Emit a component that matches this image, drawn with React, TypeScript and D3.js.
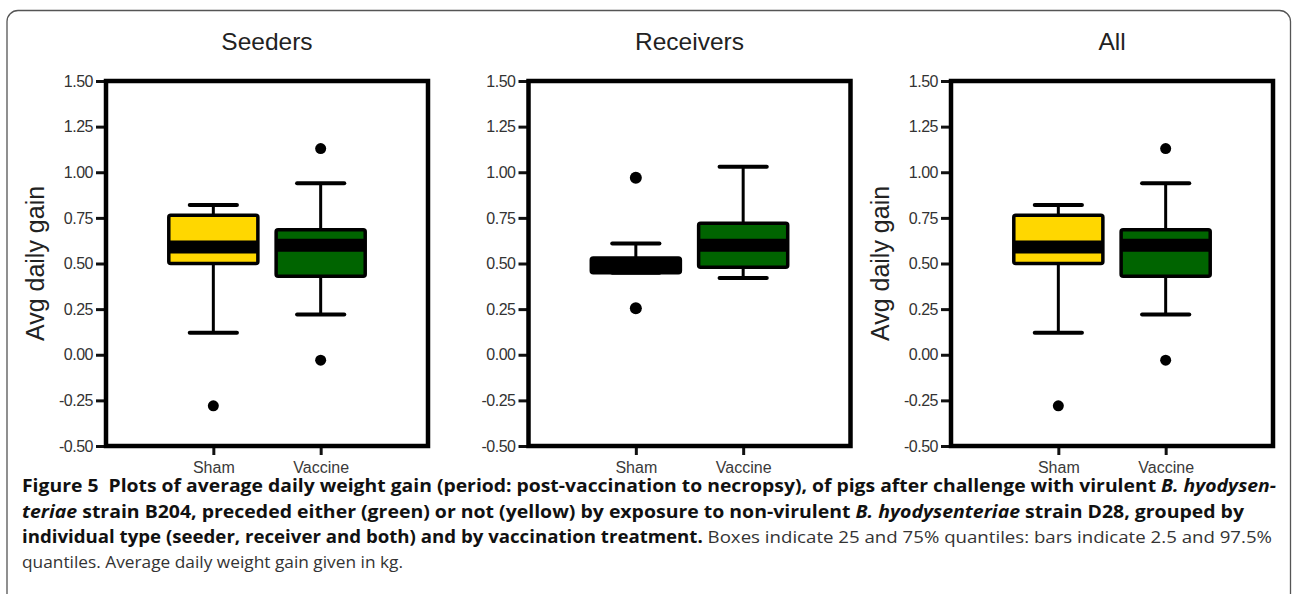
import React, { useEffect, useRef } from 'react';
import * as d3 from 'd3';

interface BoxStat {
  group: string;
  low: number;
  q1: number;
  median: number;
  q3: number;
  high: number;
  outliers: number[];
}

const panelTitles = ['Seeders', 'Receivers', 'All'];
const groups = ['Sham', 'Vaccine'];
const yTicks = [-0.5, -0.25, 0, 0.25, 0.5, 0.75, 1.0, 1.25, 1.5];
const groupColors = ['#ffd700', '#006400'];

const seeders: BoxStat[] = [
  { group: 'Sham', low: 0.12, q1: 0.5, median: 0.59, q3: 0.765, high: 0.82, outliers: [-0.28] },
  { group: 'Vaccine', low: 0.22, q1: 0.43, median: 0.6, q3: 0.685, high: 0.94, outliers: [1.13, -0.03] },
];
const receivers: BoxStat[] = [
  { group: 'Sham', low: 0.45, q1: 0.45, median: 0.49, q3: 0.53, high: 0.61, outliers: [0.97, 0.255] },
  { group: 'Vaccine', low: 0.42, q1: 0.48, median: 0.6, q3: 0.72, high: 1.03, outliers: [] },
];
const all: BoxStat[] = [
  { group: 'Sham', low: 0.12, q1: 0.5, median: 0.59, q3: 0.765, high: 0.82, outliers: [-0.28] },
  { group: 'Vaccine', low: 0.22, q1: 0.43, median: 0.6, q3: 0.685, high: 0.94, outliers: [1.13, -0.03] },
];
const panelData = [seeders, receivers, all];
const showYLabel = [true, false, true];

// caption lines: [text, bold, italic]
const captionLines: Array<Array<[string, boolean, boolean]>> = [
  [
    ['Figure 5  Plots of average daily weight gain (period: post-vaccination to necropsy), of pigs after challenge with virulent ', true, false],
    ['B. hyodysen-', true, true],
  ],
  [
    ['teriae', true, true],
    [' strain B204, preceded either (green) or not (yellow) by exposure to non-virulent ', true, false],
    ['B. hyodysenteriae', true, true],
    [' strain D28, grouped by', true, false],
  ],
  [
    ['individual type (seeder, receiver and both) and by vaccination treatment.', true, false],
    [' Boxes indicate 25 and 75% quantiles: bars indicate 2.5 and 97.5%', false, false],
  ],
  [['quantiles. Average daily weight gain given in kg.', false, false]],
];
const captionWidths = [1254, 1222, 1250, 381];

export default function App() {
  const svgRef = useRef<SVGSVGElement>(null);

  useEffect(() => {
    if (!svgRef.current) return;
    const svg = d3.select(svgRef.current);
    svg.selectAll('*').remove();

    const width = 1292;
    const height = 594;
    svg.attr('width', width).attr('height', height);

    svg.append('rect')
      .attr('width', width)
      .attr('height', height)
      .attr('fill', '#fff');

    // outer rounded border (bottom runs off the page)
    svg.append('rect')
      .attr('x', 7)
      .attr('y', 10.5)
      .attr('width', 1283.5)
      .attr('height', 700)
      .attr('rx', 11)
      .attr('fill', 'none')
      .attr('stroke', '#555')
      .attr('stroke-width', 1.3);

    const frameTop = 81;
    const frameBottom = 446;
    const frameWidth = 322;
    const frameLefts = [106, 528.5, 951];

    const yScale = d3.scaleLinear()
      .domain([-0.5, 1.5])
      .range([frameBottom, frameTop]);

    const fmt = d3.format('.2f');

    panelTitles.forEach((title, pi) => {
      const left = frameLefts[pi];
      const g = svg.append('g').attr('transform', `translate(${left}, 0)`);

      const xScale = d3.scalePoint()
        .domain(groups)
        .range([0, frameWidth])
        .padding(1);
      const step = xScale.step();
      const boxW = step * 0.83;
      const capW = boxW * 0.53;

      // title
      g.append('text')
        .attr('x', frameWidth / 2)
        .attr('y', 50)
        .attr('text-anchor', 'middle')
        .style('font-family', '"Liberation Sans", Arial, sans-serif')
        .style('font-size', '24.5px')
        .style('fill', '#222')
        .text(title);

      // y axis
      const yAxis = g.append('g')
        .call(d3.axisLeft(yScale).tickValues(yTicks).tickSize(10).tickPadding(3)
          .tickFormat(d => fmt(d as number).replace('\u2212', '-')));
      yAxis.select('.domain').remove();
      yAxis.selectAll('line').attr('stroke', '#111').attr('stroke-width', 3);
      yAxis.selectAll('text')
        .style('font-family', '"Liberation Sans", Arial, sans-serif')
        .style('font-size', '16px')
        .style('fill', '#333')
        .style('letter-spacing', '-0.5px');

      // x axis
      const xAxis = g.append('g')
        .attr('transform', `translate(0, ${frameBottom})`)
        .call(d3.axisBottom(xScale).tickSize(9).tickPadding(7));
      xAxis.select('.domain').remove();
      xAxis.selectAll('line').attr('stroke', '#111').attr('stroke-width', 3);
      xAxis.selectAll('text')
        .style('font-family', '"Liberation Sans", Arial, sans-serif')
        .style('font-size', '16px')
        .style('fill', '#3a3a3a');

      if (showYLabel[pi]) {
        g.append('text')
          .attr('transform', `translate(${-62}, ${(frameTop + frameBottom) / 2}) rotate(-90)`)
          .attr('text-anchor', 'middle')
          .style('font-family', '"Liberation Sans", Arial, sans-serif')
          .style('font-size', '25px')
          .style('fill', '#222')
          .text('Avg daily gain');
      }

      const data = panelData[pi];

      data.forEach((d, gi) => {
        const cx = xScale(d.group) || 0;
        const color = groupColors[gi];

        // whiskers
        g.append('line')
          .attr('x1', cx).attr('x2', cx)
          .attr('y1', yScale(d.q3)).attr('y2', yScale(d.high))
          .attr('stroke', '#000').attr('stroke-width', 3);
        g.append('line')
          .attr('x1', cx).attr('x2', cx)
          .attr('y1', yScale(d.q1)).attr('y2', yScale(d.low))
          .attr('stroke', '#000').attr('stroke-width', 3);
        [d.high, d.low].forEach(v => {
          g.append('line')
            .attr('x1', cx - capW / 2).attr('x2', cx + capW / 2)
            .attr('y1', yScale(v)).attr('y2', yScale(v))
            .attr('stroke', '#000').attr('stroke-width', 4)
            .attr('stroke-linecap', 'round');
        });

        // box
        g.append('rect')
          .attr('x', cx - boxW / 2)
          .attr('y', yScale(d.q3))
          .attr('width', boxW)
          .attr('height', yScale(d.q1) - yScale(d.q3))
          .attr('fill', color);

        // median band
        g.append('line')
          .attr('x1', cx - boxW / 2).attr('x2', cx + boxW / 2)
          .attr('y1', yScale(d.median)).attr('y2', yScale(d.median))
          .attr('stroke', '#000').attr('stroke-width', 13);

        g.append('rect')
          .attr('x', cx - boxW / 2)
          .attr('y', yScale(d.q3))
          .attr('width', boxW)
          .attr('height', yScale(d.q1) - yScale(d.q3))
          .attr('rx', 2)
          .attr('fill', 'none')
          .attr('stroke', '#000')
          .attr('stroke-width', 3.5);

        // outliers
        g.selectAll(null)
          .data(d.outliers)
          .enter()
          .append('circle')
          .attr('cx', cx)
          .attr('cy', v => yScale(v))
          .attr('r', pi === 1 ? 6 : 5.5)
          .attr('fill', '#000');
      });

      // frame
      g.append('rect')
        .attr('x', 0)
        .attr('y', frameTop)
        .attr('width', frameWidth)
        .attr('height', frameBottom - frameTop)
        .attr('fill', 'none')
        .attr('stroke', '#000')
        .attr('stroke-width', 4.5);
    });

    // caption
    const baselines = [492, 518, 543, 568];
    captionLines.forEach((parts, li) => {
      const t = svg.append('text')
        .attr('x', 22)
        .attr('y', baselines[li])
        .attr('textLength', captionWidths[li])
        .attr('lengthAdjust', 'spacingAndGlyphs')
        .style('white-space', 'pre')
        .style('font-family', '"Open Sans", "Noto Sans", sans-serif')
        .style('font-size', '17px');
      parts.forEach(([txt, bold, italic]) => {
        t.append('tspan')
          .style('font-weight', bold ? 'bold' : 'normal')
          .style('font-style', italic ? 'italic' : 'normal')
          .style('fill', bold ? '#111' : '#333')
          .text(txt);
      });
    });
  }, []);

  return (
    <svg ref={svgRef} style={{ position: 'absolute', left: 0, top: 0, display: 'block' }}></svg>
  );
}
